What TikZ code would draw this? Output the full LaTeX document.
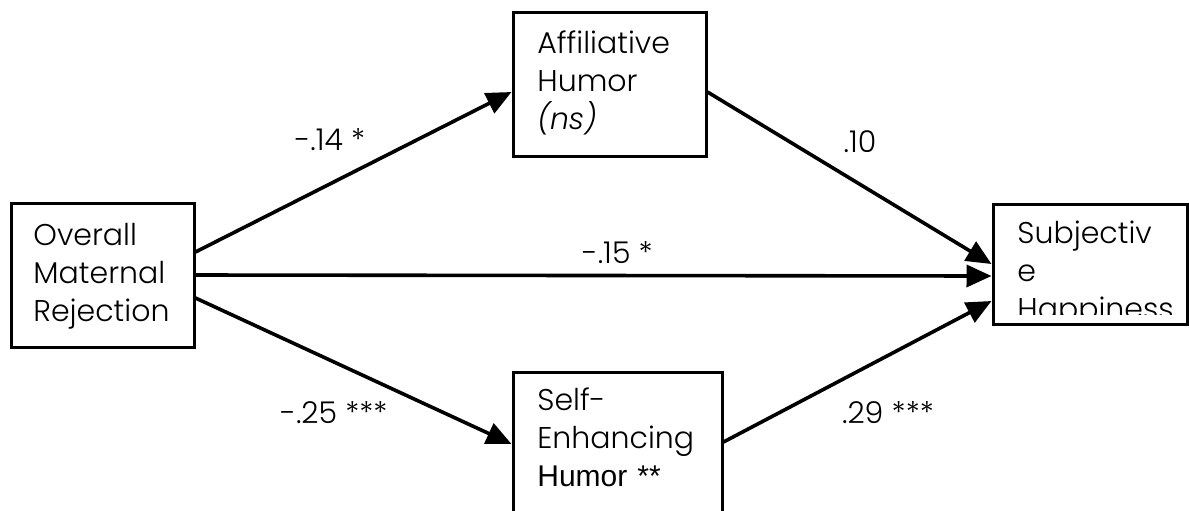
\documentclass[tikz,border=0pt]{standalone}
\usepackage{fontspec}
\setmainfont{Poppins}[UprightFont=* Light, ItalicFont=* Light Italic]
\newfontfamily\arialfont{Liberation Sans}
\usepackage{xcolor}
\usepackage{tikz}
\usetikzlibrary{arrows.meta}

\tikzset{
	box/.style={draw, line width=1.5pt, inner sep=0pt},
	boxtext/.style={anchor=base west, align=left, text width=100pt, inner sep=0pt, font=\fontsize{15}{19}\selectfont},
	coef/.style={anchor=base, inner sep=0pt, font=\fontsize{15}{19}\selectfont},
	link/.style={line width=1.8pt, -{Triangle[length=12.5pt,width=11pt]}}
}

\begin{document}
\begin{tikzpicture}[x=0.5pt,y=-0.5pt]
	\useasboundingbox (0,0) rectangle (1189,510);
	
	\node[box, minimum width=91.5pt, minimum height=72pt] (omr) at (102.5,275) {};
	\node[box, minimum width=96.5pt, minimum height=72pt] (afh) at (609.5,84) {};
	\node[box, minimum width=104.5pt, minimum height=72pt] (seh) at (617.5,444) {};
	\node[box, minimum width=97pt, minimum height=60pt] (sh) at (1090,264) {};
	
	\node[boxtext] (omrtext) at (33,245) {Overall\\Maternal\\Rejection};
	\node[boxtext] (afhtext) at (537,53) {Affiliative\\Humor\\\textit{(ns)}};
	\node[boxtext] (sehtext) at (537,410) {Self-\\Enhancing\\{\arialfont Humor **}};
	\begin{scope}
		\clip (sh.north west) rectangle ([yshift=5.5pt]sh.south east);
		\node[boxtext] (shtext) at (1017,243) {Subjectiv\\e\\Happiness};
	\end{scope}
	
	\draw[link] ([yshift=11.5pt]omr.east) -- ([yshift=-4pt]afh.west);
	\draw[link] (omr.east) -- ([yshift=-6pt]sh.west);
	\draw[link] ([yshift=-11.5pt]omr.east) -- (seh.west);
	\draw[link] ([yshift=-4pt]afh.east) -- (sh.west);
	\draw[link] ([yshift=1pt]seh.east) -- ([yshift=-18.5pt]sh.west);
	
	\node[coef] (ab) at (330,150) {-.14 *};
	\node[coef] (bc) at (860,152) {.10};
	\node[coef] (ac) at (617.5,263) {-.15 *};
	\node[coef] (ad) at (334,423) {-.25 ***};
	\node[coef] (dc) at (888,423) {.29 ***};
\end{tikzpicture}
\end{document}
